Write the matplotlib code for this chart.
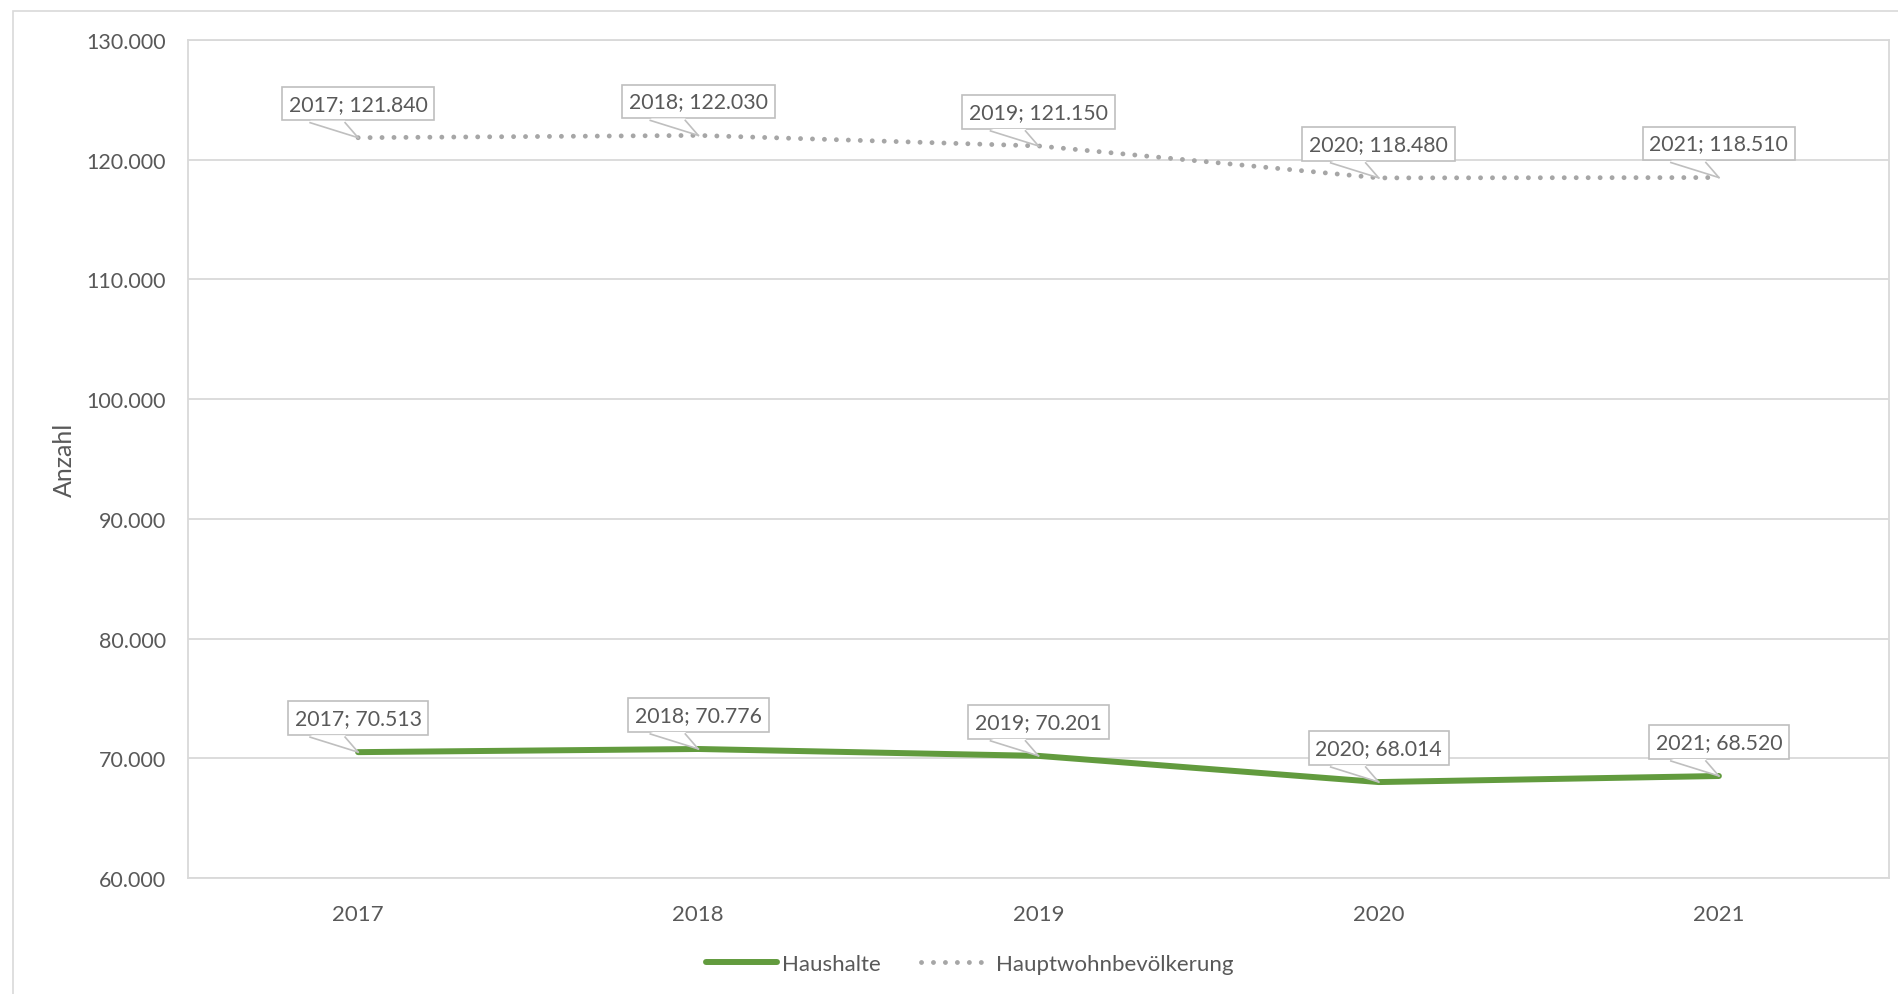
import matplotlib
matplotlib.use("Agg")
import matplotlib.pyplot as plt
import matplotlib.transforms as mtransforms
from matplotlib.patches import Polygon, Rectangle
from matplotlib.lines import Line2D
from matplotlib.ticker import FuncFormatter

years = ["2017", "2018", "2019", "2020", "2021"]
haushalte = [70513, 70776, 70201, 68014, 68520]
bevoelkerung = [121840, 122030, 121150, 118480, 118510]

TXT = "#595959"
GRID = "#D9D9D9"
GREEN = "#629B3E"
DOT = "#A6A6A6"

plt.rcParams["font.family"] = ["Lato", "DejaVu Sans"]

W, H = 1899, 995
fig = plt.figure(figsize=(W / 100, H / 100), dpi=100)
ax = fig.add_axes([188 / W, (H - 879) / H, 1701 / W, 838 / H])

x = list(range(len(years)))
ax.plot(x, haushalte, color=GREEN, lw=4.3, solid_capstyle="round",
        solid_joinstyle="round", label="Haushalte", zorder=3)
ax.plot(x, bevoelkerung, color=DOT, lw=3.5, linestyle=(0, (0.01, 2.45)),
        dash_capstyle="round", label="Hauptwohnbevölkerung", zorder=3)

ax.set_xlim(-0.5, len(years) - 0.5)
ax.set_ylim(60000, 130000)
ax.set_yticks(range(60000, 130001, 10000))
ax.yaxis.set_major_formatter(FuncFormatter(lambda v, p: f"{int(v):,}".replace(",", ".")))
ax.set_xticks(x)
ax.set_xticklabels(years)
ax.tick_params(length=0, labelcolor=TXT)
ax.tick_params(axis="y", pad=16, labelsize=15.5)
ax.tick_params(axis="x", pad=19, labelsize=16)
ax.grid(axis="y", color=GRID, lw=1.3)
ax.set_axisbelow(True)
for s in ax.spines.values():
    s.set_color(GRID)
    s.set_linewidth(1.3)
ax.set_ylabel("Anzahl", fontsize=18, color=TXT)
ax.yaxis.set_label_coords(-0.066, 0.5)

# callouts
ident = mtransforms.IdentityTransform()
for series in (haushalte, bevoelkerung):
    for i, v in enumerate(series):
        ax.annotate(f"{years[i]}; {v:,}".replace(",", "."), xy=(i, v),
                    xytext=(0, 34), textcoords="offset pixels",
                    ha="center", va="center", fontsize=15.3, color=TXT, zorder=5,
                    bbox=dict(boxstyle="square,pad=0.32", fc="white", ec="#BFBFBF", lw=1.2))
        px, py = ax.transData.transform((i, v))
        fig.add_artist(Polygon([(px - 48, py + 17), (px - 13, py + 17), (px, py)],
                               closed=True, fc="white", ec="none", transform=ident, zorder=6))
        for bx in (px - 48, px - 13):
            fig.add_artist(Line2D([bx, px], [py + 15, py], color="#BFBFBF", lw=1.2,
                                  transform=ident, zorder=7))

# outer chart border
fig.add_artist(Rectangle((13, -10), W, H - 12 + 10, fill=False, ec=GRID, lw=1.2,
                         transform=ident))

fig.legend(loc="center", bbox_to_anchor=(970 / W, 1 - 965 / H), ncol=2, frameon=False,
           fontsize=16, labelcolor=TXT, handlelength=3.2, handletextpad=0.2,
           columnspacing=1.8)

fig.savefig("out.png", dpi=100)
